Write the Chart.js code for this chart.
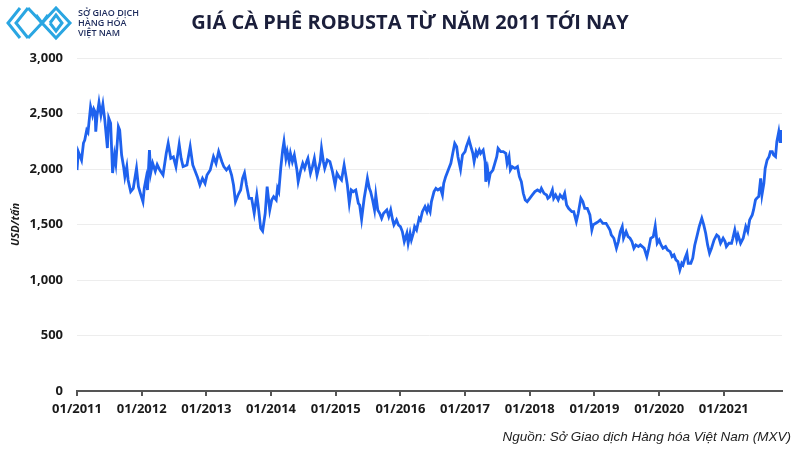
<!DOCTYPE html>
<html>
<head>
<meta charset="utf-8">
<script src="https://cdn.jsdelivr.net/npm/chart.js@4"></script>
<style>
  body { margin: 0; background: #fff; }
  #wrap { position: relative; width: 800px; height: 450px; overflow: hidden; font-family: "Open Sans", sans-serif; }
  #chart { position: absolute; left: 0; top: 0; }
  #title { position: absolute; top: 8px; left: 0; width: 820px; text-align: center; font-weight: 700; font-size: 20px; color: #1b1f3b; }
  #logo { position: absolute; left: 6px; top: 6px; }
  #logoText { position: absolute; left: 78px; top: 8px; font-size: 9px; line-height: 10px; color: #1d2b5c; font-family: "Open Sans", sans-serif; font-weight: 600; }
  #source { position: absolute; right: 9px; top: 429px; font-family: "Liberation Sans", Arial, sans-serif; font-style: italic; font-size: 13.5px; color: #222; }
</style>
</head>
<body>
<div id="wrap">
  <canvas id="chart" width="800" height="450"></canvas>
  <svg id="logo" width="70" height="36" viewBox="0 0 70 36">
    <g fill="none" stroke="#2aa6e2" stroke-width="3" stroke-linejoin="miter">
      <polyline points="14,2 2,17 14,32" />
      <polyline points="22,2 10,17 22,32" />
      <polyline points="22,2 36,17 50,2 64,17 50,32 36,17 22,32" />
      <polyline points="30,9 36,17 42,9" />
      <polyline points="44,17 50,9 56,17 50,25 44,17" />
    </g>
  </svg>
  <div id="logoText">SỞ GIAO DỊCH<br>HÀNG HÓA<br>VIỆT NAM</div>
  <div id="title">GIÁ CÀ PHÊ ROBUSTA TỪ NĂM 2011 TỚI NAY</div>
  <div id="source">Nguồn: Sở Giao dịch Hàng hóa Việt Nam (MXV)</div>
</div>
<script>
  const startYear = 2011;
  const endYear = 2021.9;
  const tickYears = [2011, 2012, 2013, 2014, 2015, 2016, 2017, 2018, 2019, 2020, 2021];
  const yTicks = [0, 500, 1000, 1500, 2000, 2500, 3000];

  // years since 01/2011
  const yearOffsets = [
    0.00, 0.02, 0.05, 0.07, 0.10, 0.12, 0.15, 0.17, 0.21, 0.24, 0.26, 0.28, 0.29, 0.31, 0.34, 0.37, 0.40, 0.43, 0.47, 0.49,
    0.52, 0.55, 0.58, 0.60, 0.64, 0.66, 0.69, 0.72, 0.74, 0.77, 0.79, 0.83, 0.87, 0.92, 0.95, 0.98,
    1.02, 1.04, 1.07, 1.09, 1.12, 1.14, 1.17, 1.21, 1.24, 1.28, 1.33, 1.38, 1.41, 1.45, 1.49, 1.53, 1.58, 1.61, 1.64, 1.70,
    1.75, 1.79, 1.82, 1.86, 1.90, 1.94, 1.98,
    2.01, 2.06, 2.11, 2.15, 2.19, 2.24, 2.27, 2.31, 2.35, 2.39, 2.42, 2.45, 2.49, 2.53, 2.56, 2.59, 2.62, 2.66, 2.70, 2.74,
    2.78, 2.80, 2.84, 2.87, 2.91, 2.94, 2.98,
    3.01, 3.04, 3.08, 3.10, 3.12, 3.15, 3.18, 3.20, 3.23, 3.25, 3.28, 3.30, 3.33, 3.36, 3.40, 3.42, 3.46, 3.49, 3.52, 3.55,
    3.57, 3.61, 3.64, 3.67, 3.71, 3.76, 3.78, 3.81, 3.83, 3.87, 3.91, 3.95, 3.99,
    4.02, 4.05, 4.09, 4.13, 4.16, 4.18, 4.21, 4.24, 4.27, 4.31, 4.35, 4.37, 4.40, 4.44, 4.47, 4.49, 4.52, 4.54, 4.57, 4.60,
    4.62, 4.65, 4.68, 4.71, 4.74, 4.79, 4.82, 4.85, 4.88, 4.90, 4.94, 4.97,
    5.00, 5.03, 5.06, 5.10, 5.12, 5.15, 5.17, 5.20, 5.22, 5.25, 5.29, 5.31, 5.34, 5.38, 5.41, 5.43, 5.46, 5.48, 5.52, 5.55,
    5.58, 5.62, 5.65, 5.67, 5.70, 5.74, 5.78, 5.81, 5.84, 5.87, 5.89, 5.93, 5.96,
    6.00, 6.02, 6.06, 6.09, 6.12, 6.14, 6.17, 6.19, 6.22, 6.24, 6.28, 6.31, 6.32, 6.35, 6.37, 6.39, 6.43, 6.46, 6.49, 6.51,
    6.55, 6.59, 6.63, 6.65, 6.68, 6.70, 6.73, 6.77, 6.81, 6.84, 6.87, 6.90, 6.93, 6.96,
    7.00, 7.04, 7.08, 7.12, 7.16, 7.18, 7.22, 7.26, 7.28, 7.31, 7.35, 7.37, 7.40, 7.44, 7.47, 7.51, 7.54, 7.57, 7.60, 7.65,
    7.68, 7.72, 7.75, 7.79, 7.82, 7.85, 7.89, 7.93, 7.96, 7.98,
    8.02, 8.06, 8.09, 8.13, 8.18, 8.21, 8.24, 8.26, 8.30, 8.34, 8.37, 8.40, 8.43, 8.45, 8.49, 8.52, 8.55, 8.58, 8.61, 8.64,
    8.68, 8.71, 8.74, 8.77, 8.81, 8.84, 8.87, 8.91, 8.94, 8.97,
    9.00, 9.03, 9.06, 9.10, 9.13, 9.17, 9.20, 9.23, 9.26, 9.29, 9.32, 9.35, 9.37, 9.40, 9.43, 9.45, 9.49, 9.52, 9.55, 9.59,
    9.62, 9.66, 9.69, 9.72, 9.75, 9.78, 9.81, 9.85, 9.89, 9.92, 9.95, 9.99,
    10.02, 10.04, 10.08, 10.12, 10.14, 10.17, 10.20, 10.22, 10.26, 10.30, 10.34, 10.37, 10.40, 10.44, 10.46, 10.49, 10.51,
    10.54, 10.57, 10.59, 10.62, 10.64, 10.67, 10.70, 10.72, 10.75, 10.77, 10.80, 10.82, 10.85, 10.87, 10.88
  ];

  // USD/tấn
  const prices = [
    1990, 2156, 2110, 2080, 2234, 2260, 2350, 2330, 2561, 2486, 2540, 2516, 2336, 2480, 2600, 2486, 2583, 2441, 2189, 2459,
    2411, 1964, 2126, 2050, 2381, 2351, 2126, 2021, 1931, 2021, 1901, 1796, 1826, 2006, 1840, 1781,
    1706, 1826, 1919, 1811, 2171, 1964, 2051, 1980, 2040, 1991, 1946, 2141, 2231, 2096, 2110, 2021, 2222, 2096, 2021, 2036,
    2201, 2036, 1991, 1931, 1856, 1916, 1870,
    1946, 1991, 2111, 2051, 2156, 2066, 2021, 1991, 2021, 1946, 1856, 1706, 1766, 1811, 1916, 1964, 1856, 1736, 1736, 1601,
    1766, 1676, 1466, 1441, 1601, 1841, 1631,
    1721, 1751, 1721, 1826, 1796, 2006, 2171, 2246, 2096, 2156, 2066, 2141, 2066, 2126, 1991, 1886, 1991, 2051, 2006, 2066,
    2096, 1961, 2021, 2096, 1946, 2066, 2186, 2066, 2006, 2081, 2066, 1976, 1856,
    1961, 1931, 1901, 2036, 1931, 1856, 1691, 1811, 1796, 1811, 1691, 1676, 1547, 1736, 1841, 1916, 1826, 1796, 1721, 1631,
    1766, 1631, 1601, 1556, 1601, 1631, 1571, 1631, 1541, 1496, 1541, 1496,
    1481, 1436, 1346, 1421, 1331, 1421, 1361, 1421, 1481, 1451, 1556, 1541, 1616, 1661, 1616, 1661, 1616, 1706, 1796, 1826,
    1811, 1826, 1766, 1871, 1931, 1991, 2051, 2141, 2231, 2201, 2111, 1997, 2126,
    2156, 2201, 2266, 2201, 2141, 2066, 2156, 2126, 2171, 2141, 2171, 2066, 1886, 1991, 1901, 1961, 1991, 2051, 2111, 2186,
    2156, 2156, 2141, 2051, 2111, 1991, 2021, 2006, 2021, 1931, 1886, 1781, 1721, 1706,
    1736, 1766, 1796, 1811, 1796, 1826, 1781, 1766, 1736, 1751, 1811, 1736, 1766, 1721, 1766, 1736, 1781, 1676, 1646, 1616,
    1616, 1526, 1601, 1736, 1706, 1646, 1646, 1586, 1451, 1496,
    1511, 1526, 1541, 1511, 1511, 1481, 1451, 1406, 1376, 1286, 1346, 1436, 1481, 1376, 1436, 1391, 1376, 1346, 1286, 1316,
    1301, 1316, 1301, 1286, 1211, 1286, 1376, 1391, 1486, 1331,
    1361, 1316, 1286, 1301, 1271, 1256, 1211, 1226, 1181, 1166, 1091, 1151, 1136, 1196, 1241, 1151, 1151, 1196, 1311, 1406,
    1481, 1556, 1496, 1421, 1316, 1241, 1286, 1361, 1406, 1391, 1331, 1376,
    1346, 1301, 1331, 1331, 1376, 1451, 1361, 1406, 1331, 1376, 1481, 1436, 1541, 1586, 1631, 1721, 1736,
    1751, 1916, 1766, 1871, 2006, 2081, 2111, 2156, 2156, 2126, 2111, 2246, 2336, 2246, 2351
  ];

  const points = yearOffsets.map((t, i) => ({ x: startYear + t, y: prices[i] }));

  const tickFont = { family: "Open Sans", size: 13, weight: "bold" };

  new Chart(document.getElementById("chart"), {
    type: "line",
    data: {
      datasets: [
        {
          data: points,
          borderColor: "#1f62ee",
          borderWidth: 2.8,
          pointRadius: 0,
          tension: 0,
          fill: false,
        },
      ],
    },
    options: {
      responsive: false,
      animation: false,
      layout: { padding: { top: 58, right: 18, left: 0, bottom: 0 } },
      plugins: { legend: { display: false }, tooltip: { enabled: false } },
      scales: {
        x: {
          type: "linear",
          min: startYear,
          max: endYear,
          afterBuildTicks: (scale) => {
            scale.ticks = tickYears.map((v) => ({ value: v }));
          },
          afterFit: (scale) => {
            scale.height = 59;
          },
          ticks: {
            font: tickFont,
            color: "#1a1a1a",
            padding: 5,
            maxRotation: 0,
            callback: (v) => "01/" + v,
          },
          grid: { drawOnChartArea: false, drawTicks: true, tickLength: 5, color: "#555", lineWidth: 2 },
          border: { display: true, color: "#555", width: 2 },
        },
        y: {
          min: 0,
          max: 3000,
          afterBuildTicks: (scale) => {
            scale.ticks = yTicks.map((v) => ({ value: v }));
          },
          afterFit: (scale) => {
            scale.width = 77;
          },
          ticks: {
            font: tickFont,
            color: "#1a1a1a",
            padding: 14,
            callback: (v) => v.toLocaleString("en-US"),
          },
          grid: { color: "#ededed", lineWidth: 1, drawTicks: false },
          border: { display: false },
          title: {
            display: true,
            text: "USD/tấn",
            font: { family: "Open Sans", size: 11, weight: "bold", style: "italic" },
            color: "#1a1a1a",
            padding: { top: 9, bottom: 0 },
          },
        },
      },
    },
  });
</script>
</body>
</html>
